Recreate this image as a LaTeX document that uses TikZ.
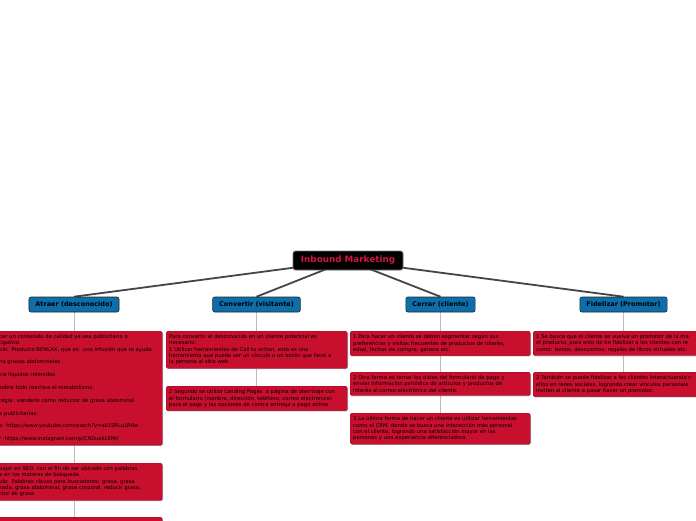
\documentclass[tikz,border=0pt]{standalone}
\usepackage{fontspec}
\setmainfont{DejaVu Sans}
\usetikzlibrary{backgrounds,shadows}
\definecolor{leafred}{HTML}{C8102E}
\definecolor{leafedge}{HTML}{A00C24}
\definecolor{topblue}{HTML}{0E6EAA}
\definecolor{rootred}{HTML}{D4163C}
\definecolor{wedge}{HTML}{454545}
\definecolor{stem}{HTML}{BBBBBB}
\tikzset{
  rootbox/.style={rectangle, rounded corners=2.5pt, fill=black, draw=black!55, line width=0.8pt,
    text=rootred, font=\fontsize{8.8}{9.5}\selectfont\bfseries, minimum width=110, minimum height=19, inner sep=0pt},
  topbox/.style={rectangle, rounded corners=2pt, fill=topblue, draw=black!85, line width=0.6pt,
    text=black, font=\fontsize{6.5}{7.5}\selectfont\bfseries, minimum height=15, inner xsep=6.5pt, inner ysep=0pt},
  leaf/.style={rectangle, rounded corners=1.5pt, fill=leafred, draw=leafedge, line width=0.4pt,
    drop shadow={shadow xshift=0.8pt, shadow yshift=-0.8pt, fill=black!30, opacity=1},
    text=black, font=\fontsize{5.25}{6.4}\selectfont, align=left, inner xsep=3pt, inner ysep=3.2pt,
    anchor=north west},
  wedgeline/.style={draw=wedge, line width=1.8pt},
  stemline/.style={draw=stem, line width=0.8pt}
}
\begin{document}
\begin{tikzpicture}[x=1pt,y=-1pt]
\useasboundingbox (0,0) rectangle (696,520);
\clip (0,0) rectangle (696,520);

\node[rootbox] (r) at (348,260.5) {Inbound Marketing};

\node[topbox] (a) at (74,304.5) {Atraer (desconocido)};
\node[topbox] (c) at (256.5,304.5) {Convertir (visitante)};
\node[topbox] (e) at (440.5,304.5) {Cerrar (cliente)};
\node[topbox] (f) at (623.5,304.5) {Fidelizar (Promotor)};

% Atraer
\node[leaf, text width=160] (a1) at (-4,331) {%
cer un contenido de calidad ya sea publicitario o\\
tigativo\\
plo: Producto BENLAX, que es: una infusión que te ayuda\\[6.4pt]
na grasas abdominales\\[6.4pt]
tra líquidos retenidos\\[6.4pt]
sobre todo reactiva el metabolismo.\\[6.4pt]
tegia: venderlo como reductor de grasa abdominal\\[6.4pt]
a publicitarias:\\[6.4pt]
s: https://www.youtube.com/watch?v=ak1SRLuLR6w\\[6.4pt]
r :https://www.instagram.com/p/CN0uokLEMI/};
\node[leaf, text width=160] (a2) at (-4,463) {%
bajar en SEO, con el fin de ser ubicado con palabras\\
a en los motores de búsqueda\\
plo: Palabras claves para buscadores: grasa, grasa\\
zada, grasa abdominal, grasa corporal, reducir grasa,\\
ctor de grasa};
\node[leaf, text width=160, minimum height=30] (a3) at (-4,517) {};

% Convertir
\node[leaf, text width=175] (c1) at (166,331) {%
Para convertir el desconocido en un cliente potencial es\\
necesario:\\
1 Utilizar herramientas de Call to action, esta es una\\
herramienta que puede ser un vínculo o un botón que lleve a\\
la persona al sitio web};
\node[leaf, text width=175] (c2) at (166,386) {%
2 Segundo se utiliza Landing Pages\ \ o página de aterrizaje con\\
el formulario (nombre, dirección, teléfono, correo electrónico)\\
para el pago y las opciones de contra entrega o pago online};

% Cerrar
\node[leaf, text width=174] (e1) at (350,331) {%
1 Para hacer un cliente se deben segmentar según sus\\
preferencias y visitas frecuentes de productos de interés,\\
edad, fechas de compra, genero etc.};
\node[leaf, text width=174] (e2) at (350,372) {%
2 Otra forma es tomar los datos del formulario de pago y\\
enviar información periódica de artículos y productos de\\
interés al correo electrónico del cliente.};
\node[leaf, text width=174] (e3) at (350,413) {%
3 La última forma de hacer un cliente es utilizar herramientas\\
como el CRM, donde se busca una interacción más personal\\
con el cliente, logrando una satisfacción mayor en las\\
personas y una experiencia diferenciadora.};

% Fidelizar
\node[leaf, text width=190] (f1) at (533,331) {%
1 Se busca que el cliente se vuelva un promotor de la ma\\
el producto, para esto de be fidelizar a los clientes con re\\
como: bonos, descuentos, regalos de libros virtuales etc.};
\node[leaf, text width=190] (f2) at (533,372) {%
2 También se puede fidelizar a los clientes interactuando c\\
ellos en redes sociales, logrando crear vínculos personale\\
inviten al cliente a pasar hacer un promotor.};

\begin{pgfonlayer}{background}
  \draw[wedgeline] (r.center) -- (a.north);
  \draw[wedgeline] (r.center) -- (c.north);
  \draw[wedgeline] (r.center) -- (e.north);
  \draw[wedgeline] (r.center) -- (f.north);
  \draw[stemline] (a.south) -- (a3.north -| a.south);
  \draw[stemline] (c.south) -- (c2.north -| c.south);
  \draw[stemline] (e.south) -- (e3.north -| e.south);
  \draw[stemline] (f.south) -- (f2.north -| f.south);
\end{pgfonlayer}
\end{tikzpicture}
\end{document}
